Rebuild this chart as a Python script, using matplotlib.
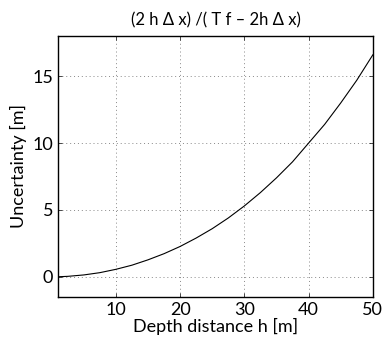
import matplotlib
matplotlib.use("Agg")
import matplotlib.pyplot as plt

# === DATA ===
depth_h = [1, 2.5, 5, 7.5, 10, 12.5, 15, 17.5, 20, 22.5, 25, 27.5,
           30, 32.5, 35, 37.5, 40, 42.5, 45, 47.5, 50]
uncertainty = [0.005, 0.035, 0.14, 0.31, 0.56, 0.87, 1.27, 1.73, 2.27, 2.9, 3.6, 4.4,
               5.3, 6.3, 7.4, 8.6, 10.0, 11.4, 13.0, 14.7, 16.6]
x_ticks = [10, 20, 30, 40, 50]
y_ticks = [0, 5, 10, 15]

plt.rcParams['font.family'] = ['Lato', 'DejaVu Sans']

fig = plt.figure(figsize=(3.82, 3.44), dpi=100)
ax = fig.add_axes([0.152, 0.137, 0.824, 0.758])

ax.plot(depth_h, uncertainty, color='black', linewidth=0.8)

ax.set_xlim(1, 50)
ax.set_ylim(-1.5, 18)
ax.set_xticks(x_ticks)
ax.set_yticks(y_ticks)
ax.tick_params(direction='in', labelsize=13, length=3, width=0.5, top=True, right=True)
ax.grid(True, linestyle=(0, (1, 3)), color='#888888', linewidth=0.7)
for s in ax.spines.values():
    s.set_linewidth(1.0)

ax.set_xlabel('Depth distance h [m]', fontsize=13, labelpad=0)
ax.set_ylabel('Uncertainty [m]', fontsize=13, labelpad=4)
ax.set_title('(2 h \u0394 x) /( T f \u2013 2h \u0394 x)', fontsize=12, pad=8)

fig.savefig('out.png', dpi=100)
